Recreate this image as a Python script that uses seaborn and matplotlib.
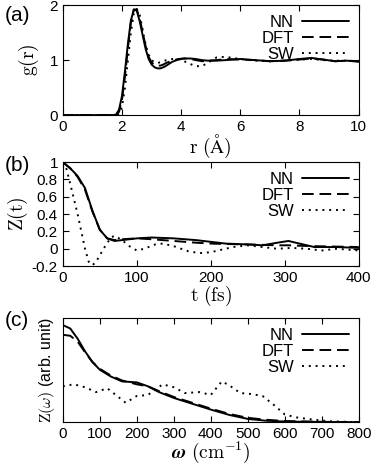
import numpy as np
import pandas as pd
import matplotlib
matplotlib.use("Agg")
import matplotlib.pyplot as plt
import seaborn as sns

# ---- data: g(r) ----
r = [0, 1.7, 1.8, 1.9, 2.0, 2.1, 2.2, 2.3, 2.4, 2.5, 2.6, 2.7, 2.8, 2.9, 3.0, 3.1, 3.2, 3.3, 3.4, 3.5,
     3.7, 3.9, 4.1, 4.3, 4.5, 4.7, 4.9, 5.2, 5.5, 6.0, 6.5, 7.0, 7.5, 8.0, 8.4, 8.8, 9.2, 9.6, 10]
g_nn = [0, 0, 0.01, 0.1, 0.35, 0.8, 1.3, 1.72, 1.92, 1.9, 1.7, 1.45, 1.2, 1.02, 0.92, 0.87, 0.85, 0.85, 0.87, 0.9,
        0.97, 1.01, 1.03, 1.03, 1.02, 1.0, 0.99, 0.99, 1.0, 1.02, 1.0, 0.98, 0.99, 1.02, 1.04, 1.01, 0.98, 0.99, 0.97]
g_dft = [0, 0, 0.0, 0.06, 0.28, 0.7, 1.22, 1.68, 1.92, 1.92, 1.75, 1.5, 1.25, 1.06, 0.96, 0.91, 0.9, 0.9, 0.92, 0.95,
         0.99, 1.02, 1.03, 1.02, 1.0, 0.98, 0.99, 1.0, 1.02, 1.01, 1.0, 0.98, 0.99, 1.01, 1.03, 1.01, 0.98, 0.99, 0.98]
g_sw = [0, 0, 0, 0.02, 0.15, 0.5, 1.0, 1.5, 1.85, 1.93, 1.82, 1.55, 1.28, 1.1, 1.0, 0.96, 0.95, 0.96, 0.98, 1.0,
        1.02, 1.02, 0.98, 0.93, 0.89, 0.89, 0.95, 1.05, 1.06, 1.02, 0.99, 0.98, 0.99, 1.01, 1.02, 1.0, 0.99, 0.99, 0.98]

# ---- data: Z(t) ----
t_nn = [0, 10, 20, 30, 40, 50, 60, 70, 80, 100, 120, 150, 180, 200, 220, 250, 270, 290, 305, 320, 340, 370, 400]
z_nn = [1.0, 0.93, 0.84, 0.7, 0.44, 0.22, 0.12, 0.09, 0.1, 0.12, 0.13, 0.12, 0.1, 0.08, 0.06, 0.05, 0.04, 0.07,
        0.09, 0.06, 0.02, 0.02, 0.01]
z_dft = [1.0, 0.93, 0.83, 0.68, 0.43, 0.22, 0.12, 0.1, 0.11, 0.12, 0.11, 0.09, 0.07, 0.06, 0.055, 0.05, 0.045,
         0.04, 0.04, 0.035, 0.03, 0.025, 0.02]
t_sw = [0, 5, 10, 20, 25, 30, 35, 40, 45, 55, 65, 70, 80, 90, 100, 110, 125, 135, 150, 170, 185, 200, 230, 250,
        270, 290, 310, 330, 350, 370, 400]
z_sw = [1.0, 0.92, 0.75, 0.4, 0.2, 0.0, -0.15, -0.19, -0.15, 0.0, 0.13, 0.15, 0.1, 0.03, -0.02, 0.0, 0.05, 0.06,
        0.03, -0.03, -0.05, -0.04, 0.02, 0.04, 0.02, 0.0, 0.01, 0.0, -0.02, 0.0, -0.02]

# ---- data: Z(omega) ----
w = [0, 20, 40, 60, 80, 100, 130, 160, 200, 230, 260, 300, 350, 400, 450, 500, 550, 600, 700, 800]
zw_nn = [1.0, 0.965, 0.86, 0.73, 0.62, 0.54, 0.47, 0.42, 0.41, 0.37, 0.31, 0.25, 0.19, 0.13, 0.075, 0.034,
         0.015, 0.007, 0.002, 0.0]
zw_dft = [0.9, 0.89, 0.83, 0.72, 0.62, 0.55, 0.48, 0.43, 0.39, 0.37, 0.32, 0.26, 0.2, 0.14, 0.085, 0.045,
          0.025, 0.012, 0.004, 0.0]
w_sw = [0, 30, 60, 90, 120, 150, 170, 200, 230, 270, 300, 330, 370, 400, 430, 450, 480, 510, 540, 570, 600, 630,
        680, 720, 800]
zw_sw = [0.37, 0.39, 0.36, 0.31, 0.35, 0.26, 0.2, 0.27, 0.28, 0.39, 0.36, 0.3, 0.31, 0.28, 0.42, 0.38, 0.3, 0.29,
         0.27, 0.18, 0.08, 0.05, 0.025, 0.01, 0.0]

labels = ["NN", "DFT", "SW"]

sns.set_style("ticks")
plt.rcParams["font.family"] = ["Liberation Sans", "DejaVu Sans"]
plt.rcParams["mathtext.fontset"] = "cm"
plt.rcParams["axes.edgecolor"] = "black"
plt.rcParams["xtick.color"] = "black"
plt.rcParams["ytick.color"] = "black"
plt.rcParams["text.color"] = "black"
plt.rcParams["axes.labelcolor"] = "black"

fig = plt.figure(figsize=(3.74, 4.66), dpi=100)
ax_a = fig.add_axes([0.168, 0.753, 0.791, 0.236])
ax_b = fig.add_axes([0.168, 0.429, 0.791, 0.223])
ax_c = fig.add_axes([0.168, 0.094, 0.791, 0.223])

styles = {"NN": "-", "DFT": (0, (6, 3)), "SW": (0, (1, 2.5))}


def draw(ax, xs, ys):
    for lab, x, y in zip(labels, xs, ys):
        df = pd.DataFrame({"x": x, "y": y})
        sns.lineplot(data=df, x="x", y="y", ax=ax, color="black", lw=1.4,
                     linestyle=styles[lab], label=lab)
    leg = ax.legend(loc="upper right", frameon=False, markerfirst=False, fontsize=12,
                    handlelength=2.8, handletextpad=0.5, labelspacing=0.05,
                    borderaxespad=0.2)
    for txt in leg.get_texts():
        txt.set_ha("right")
    ax.tick_params(direction="in", top=True, right=True, labelsize=11, length=4, width=0.8)
    for s in ax.spines.values():
        s.set_linewidth(0.8)


draw(ax_a, [r, r, r], [g_nn, g_dft, g_sw])
ax_a.set_xlim(0, 10)
ax_a.set_ylim(0, 2)
ax_a.set_xticks([0, 2, 4, 6, 8, 10])
ax_a.set_yticks([0, 1, 2])
ax_a.set_xlabel(r"$\mathrm{r\ (\AA)}$", fontsize=14, labelpad=-1)
ax_a.set_ylabel(r"$\mathrm{g(r)}$", fontsize=14, labelpad=6)

draw(ax_b, [t_nn, t_nn, t_sw], [z_nn, z_dft, z_sw])
ax_b.set_xlim(0, 400)
ax_b.set_ylim(-0.2, 1.0)
ax_b.set_xticks([0, 100, 200, 300, 400])
ax_b.set_yticks([-0.2, 0, 0.2, 0.4, 0.6, 0.8, 1.0])
ax_b.set_yticklabels(["-0.2", "0", "0.2", "0.4", "0.6", "0.8", "1"])
ax_b.set_xlabel(r"$\mathrm{t\ (fs)}$", fontsize=14, labelpad=-1)
ax_b.set_ylabel(r"$\mathrm{Z(t)}$", fontsize=14, labelpad=1)

draw(ax_c, [w, w, w_sw], [zw_nn, zw_dft, zw_sw])
ax_c.set_xlim(0, 800)
ax_c.set_ylim(0, 1.07)
ax_c.set_xticks([0, 100, 200, 300, 400, 500, 600, 700, 800])
ax_c.set_yticks([])
ax_c.set_xlabel(r"$\boldsymbol{\omega}\ \mathrm{(cm^{-1})}$", fontsize=14, labelpad=-1)
ax_c.set_ylabel(r"$\mathrm{Z(\omega)}$ (arb. unit)", fontsize=11.5, labelpad=4)

fig.text(0.013, 0.967, "(a)", fontsize=15, va="center")
fig.text(0.013, 0.645, "(b)", fontsize=15, va="center")
fig.text(0.013, 0.313, "(c)", fontsize=15, va="center")

fig.savefig("out.png", dpi=100)
